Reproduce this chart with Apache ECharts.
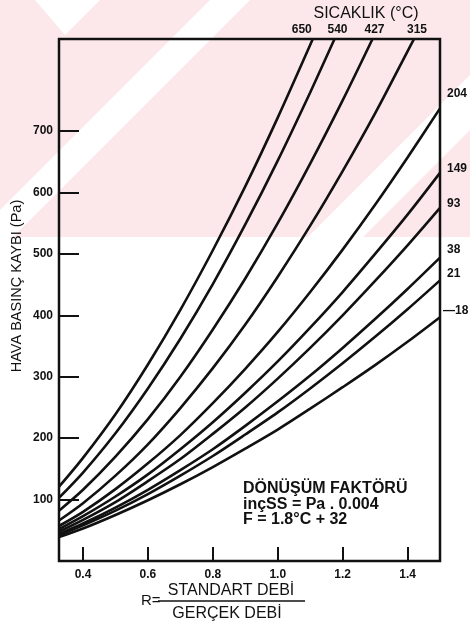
<!DOCTYPE html>
<html><head><meta charset="utf-8">
<script src="https://cdn.jsdelivr.net/npm/echarts@6/dist/echarts.min.js"></script>
<style>html,body{margin:0;padding:0;background:#fff}#c{width:470px;height:632px}</style>
</head><body><div id="c"></div>
<script>
// R = standard flow / actual flow
const rGrid = [0.326,0.4,0.5,0.6,0.7,0.8,0.9,1.0,1.1,1.2,1.3,1.4,1.5];
// pressure loss (Pa) per temperature curve, read at rGrid points
const p650 = [121,168,239,320,409,506,610,722];
const p540 = [103,144,208,281,362,451,548,652,763];
const p427 = [82,116,170,231,300,377,460,550,647,750];
const p315 = [66,94,139,190,249,314,385,463,546,635,729,830];
const p204 = [57,80,117,159,205,257,313,373,438,507,580,657,737];
const p149 = [52,73,105,141,182,226,274,325,380,438,500,564,632];
const p93  = [48,67,96,130,166,207,250,297,347,400,456,514,575];
const p38  = [44,61,87,116,148,182,220,260,302,347,394,443,494];
const p21  = [42,58,82,109,139,171,206,242,281,322,365,410,457];
const pM18 = [39,53,75,99,125,153,183,214,248,283,319,357,397];
// R where the hot curves leave the top of the chart (at yMax)
const topExit = {'650':1.108,'540':1.175,'427':1.292,'315':1.42};
const yMax = 850;
const xTicks = [0.4,0.6,0.8,1.0,1.2,1.4];
const yTicks = [100,200,300,400,500,600,700];
const tempLabels = ['650','540','427','315','204','149','93','38','21','\u201418'];

const curveVals = [p650,p540,p427,p315,p204,p149,p93,p38,p21,pM18];
const labelStyle = [
  {top:true, dx:-11},{top:true, dx:3},{top:true, dx:2},{top:true, dx:3},
  {dy:-15},{dy:-4},{dy:-4},{dy:-8},{dy:-7},{dy:-7,dist:3}
];

const series = curveVals.map((vals,i)=>{
  const name = tempLabels[i];
  const data = vals.map((v,j)=>[rGrid[j], v]);
  if (topExit[name] !== undefined) data.push([topExit[name], yMax]);
  const ls = labelStyle[i];
  const endLabel = ls.top ? {
      show:true, formatter:name, distance:0, align:'center', verticalAlign:'bottom',
      offset:[ls.dx,-3], color:'#111', fontFamily:'Liberation Sans', fontWeight:'bold', fontSize:12
    } : {
      show:true, formatter:name, distance:(ls.dist||7), align:'left', verticalAlign:'middle',
      offset:[0,ls.dy], color:'#111', fontFamily:'Liberation Sans', fontWeight:'bold', fontSize:12
    };
  return {
    type:'line', name:name, data:data, smooth:0.3, showSymbol:false, symbol:'none',
    lineStyle:{color:'#111', width:2.6}, clip:true, endLabel:endLabel, z:3
  };
});

function T(o){ return Object.assign({fontFamily:'Liberation Sans', fill:'#111'}, o); }

const chart = echarts.init(document.getElementById('c'), null, {renderer:'canvas'});
chart.setOption({
  animation:false,
  backgroundColor:'#fff',
  grid:{left:59, right:30, top:39, bottom:71, show:true, borderColor:'#111', borderWidth:2.5, backgroundColor:'transparent'},
  xAxis:{
    type:'value', min:0.326, max:1.5,
    axisLine:{show:false}, splitLine:{show:false},
    axisTick:{show:true, inside:true, length:14, lineStyle:{color:'#111', width:2}, customValues:xTicks},
    axisLabel:{customValues:xTicks, formatter:v=>v.toFixed(1), color:'#111', fontFamily:'Liberation Sans', fontWeight:'bold', fontSize:12, margin:8}
  },
  yAxis:{
    type:'value', min:0, max:yMax,
    axisLine:{show:false}, splitLine:{show:false},
    axisTick:{show:true, inside:true, length:20, lineStyle:{color:'#111', width:2}, customValues:yTicks},
    axisLabel:{customValues:yTicks, color:'#111', fontFamily:'Liberation Sans', fontWeight:'bold', fontSize:12, margin:6}
  },
  graphic:[
    {type:'rect', z:-10, silent:true, shape:{x:0,y:0,width:470,height:237}, style:{fill:'#fce8eb'}},
    {type:'polygon', z:-9, silent:true, shape:{points:[[210,0],[250,0],[13,237],[-27,237]]}, style:{fill:'#fff'}},
    {type:'polygon', z:-9, silent:true, shape:{points:[[545,0],[600,0],[363,237],[308,237]]}, style:{fill:'#fff'}},
    {type:'polygon', z:-9, silent:true, shape:{points:[[35,0],[100,0],[65,35]]}, style:{fill:'#fff'}},
    {type:'text', x:366, y:14, style:T({text:'SICAKLIK (°C)', fontSize:16, align:'center', verticalAlign:'middle'})},
    {type:'text', x:17, y:286, rotation:Math.PI/2, style:T({text:'HAVA BASINÇ KAYBI (Pa)', fontSize:14.5, align:'center', verticalAlign:'middle'})},
    {type:'text', x:243, y:481, style:T({text:'DÖNÜŞÜM FAKTÖRÜ\ninçSS = Pa . 0.004\nF = 1.8°C + 32', fontSize:16, fontWeight:'bold', lineHeight:15.5})},
    {type:'text', x:141, y:601, style:T({text:'R=', fontSize:15, verticalAlign:'middle'})},
    {type:'text', x:231, y:591, style:T({text:'STANDART DEBİ', fontSize:16, align:'center', verticalAlign:'middle'})},
    {type:'line', shape:{x1:158,y1:601,x2:305,y2:601}, style:{stroke:'#111', lineWidth:1.5}},
    {type:'text', x:227, y:614, style:T({text:'GERÇEK DEBİ', fontSize:16, align:'center', verticalAlign:'middle'})}
  ],
  series:series
});
</script></body></html>
